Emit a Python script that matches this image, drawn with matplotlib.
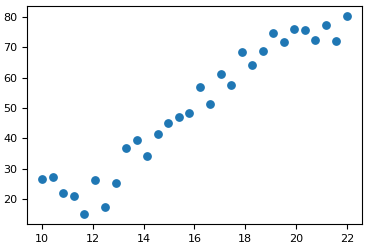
import matplotlib
matplotlib.use('Agg')
import matplotlib.pyplot as plt

x = [10.0, 10.41, 10.83, 11.24, 11.66, 12.07, 12.48, 12.9, 13.31, 13.72,
     14.14, 14.55, 14.97, 15.38, 15.79, 16.21, 16.62, 17.03, 17.45, 17.86,
     18.28, 18.69, 19.1, 19.52, 19.93, 20.34, 20.76, 21.17, 21.59, 22.0]
y = [26.6, 27.3, 22.0, 21.0, 15.1, 26.3, 17.4, 25.3, 36.9, 39.5,
     34.2, 41.5, 45.1, 47.1, 48.4, 57.0, 51.4, 61.3, 57.6, 68.5,
     64.2, 68.9, 74.8, 71.8, 76.1, 75.8, 72.5, 77.4, 72.2, 80.4]

fig = plt.figure(figsize=(3.68, 2.48), dpi=100)
ax = fig.add_axes([0.073, 0.097, 0.911, 0.879])
ax.scatter(x, y, s=28)
ax.tick_params(labelsize=8)
fig.savefig('out.png', dpi=100)
